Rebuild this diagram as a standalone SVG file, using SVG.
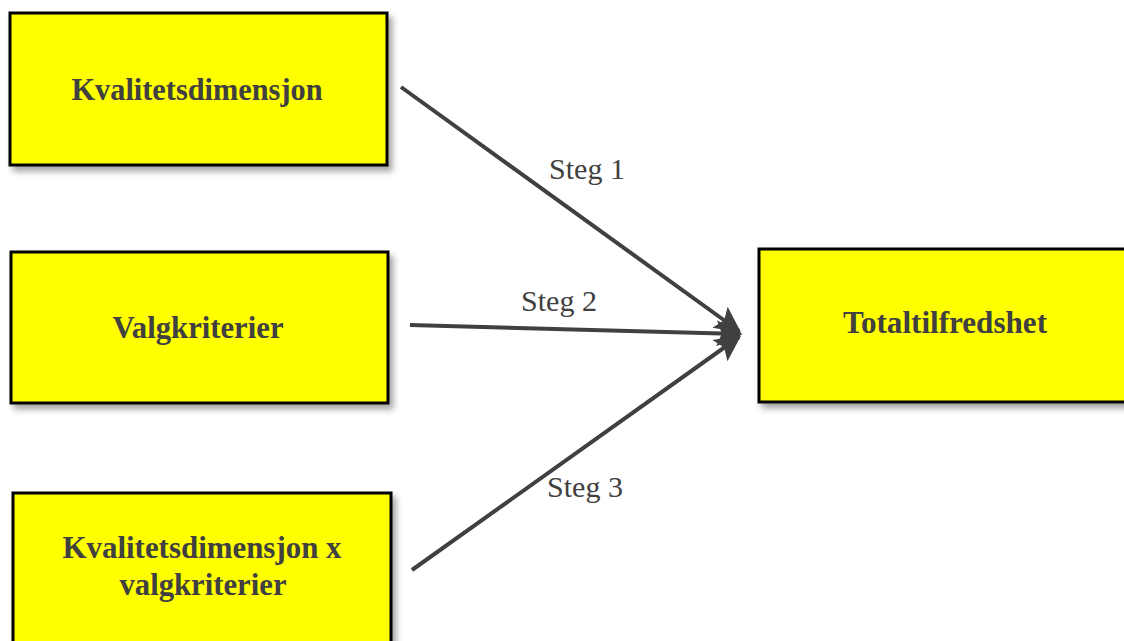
<svg xmlns="http://www.w3.org/2000/svg" width="1124" height="641" viewBox="0 0 1124 641">
  <style>
    .box { fill: #ffff00; stroke: #000000; stroke-width: 3; filter: url(#shadow); }
    .label { font-family: "Liberation Serif", "Times New Roman", serif; font-weight: bold; font-size: 32px; fill: #404040; text-anchor: middle; }
    .step { font-family: "Liberation Serif", "Times New Roman", serif; font-size: 30px; fill: #404040; text-anchor: middle; }
    .edge { stroke: #404040; stroke-width: 4; fill: none; marker-end: url(#head); }
  </style>
  <defs>
    <filter id="shadow" x="-5%" y="-5%" width="115%" height="120%">
      <feDropShadow dx="4" dy="5" stdDeviation="3" flood-color="#000000" flood-opacity="0.35"/>
    </filter>
    <marker id="head" viewBox="0 0 10 10" refX="9" refY="5" markerWidth="7.5" markerHeight="6.5" markerUnits="strokeWidth" orient="auto">
      <path d="M0,0 L10,5 L0,10 L2,5 Z" fill="#404040"/>
    </marker>
  </defs>
  <rect width="1124" height="641" fill="#ffffff"/>

  <g id="node-kvalitet">
    <rect class="box" x="10" y="13" width="377" height="152"/>
    <text class="label" x="197" y="100" textLength="251" lengthAdjust="spacingAndGlyphs">Kvalitetsdimensjon</text>
  </g>
  <g id="node-valg">
    <rect class="box" x="11" y="252" width="377" height="151"/>
    <text class="label" x="198" y="338" textLength="171" lengthAdjust="spacingAndGlyphs">Valgkriterier</text>
  </g>
  <g id="node-kombinert">
    <rect class="box" x="13" y="493" width="378" height="160"/>
    <text class="label" x="202" y="558" textLength="279" lengthAdjust="spacingAndGlyphs">Kvalitetsdimensjon x</text>
    <text class="label" x="203" y="595" textLength="167" lengthAdjust="spacingAndGlyphs">valgkriterier</text>
  </g>
  <g id="node-total">
    <rect class="box" x="759" y="249" width="372" height="153"/>
    <text class="label" x="945" y="333" textLength="204" lengthAdjust="spacingAndGlyphs">Totaltilfredshet</text>
  </g>

  <g id="connectors">
    <line class="edge" x1="401" y1="87" x2="739" y2="331"/>
    <line class="edge" x1="410" y1="325" x2="740" y2="334"/>
    <line class="edge" x1="412" y1="570" x2="739" y2="337"/>
    <text class="step" x="587" y="179">Steg 1</text>
    <text class="step" x="559" y="311">Steg 2</text>
    <text class="step" x="585" y="497">Steg 3</text>
  </g>
</svg>
